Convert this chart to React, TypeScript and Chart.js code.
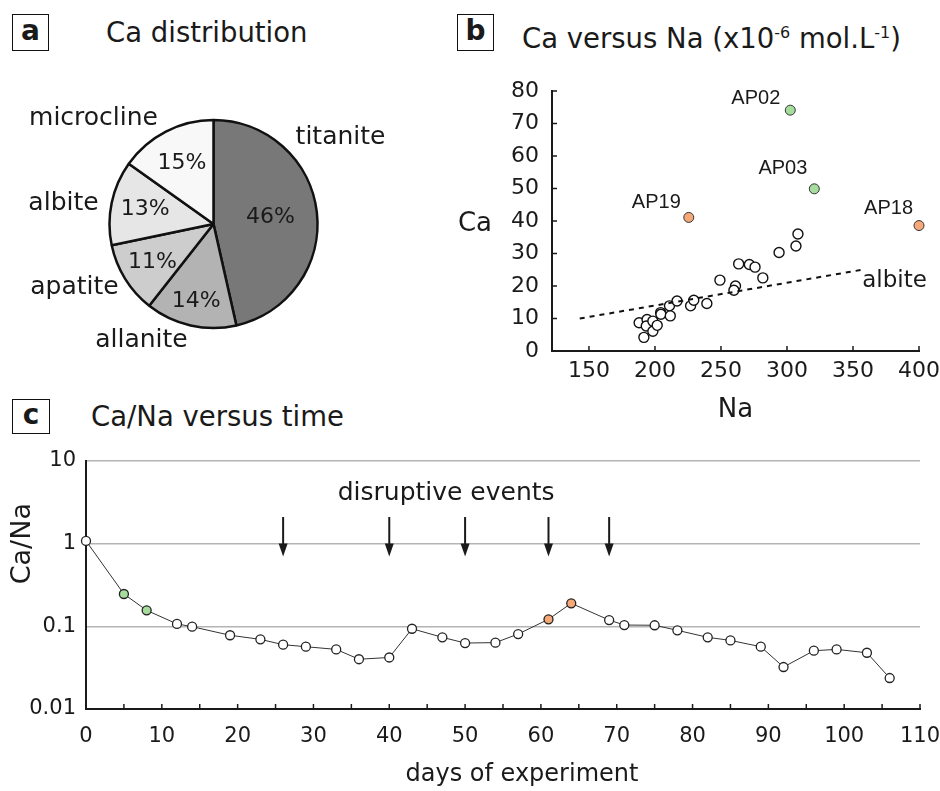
import React, { useEffect, useRef } from "react";
import { Chart, registerables } from "chart.js";

Chart.register(...registerables);

const FONT = "'DejaVu Sans', sans-serif";
const ARIAL = "'Liberation Sans', Arial, sans-serif";
const INK = "#1a1a1a";

// ---------- Panel a: Ca distribution ----------
const mineralNames = ["titanite", "allanite", "apatite", "albite", "microcline"];
const mineralShares = [46, 14, 11, 13, 15];

// ---------- Panel b: Ca versus Na ----------
const sampleNa = [188, 194, 193.4, 191.6, 198.4, 198.4, 201.7, 204.3, 204.5, 211, 211.6, 216.7, 227, 229.4, 239.3, 249.2, 261, 259.8, 263.4, 271.5, 275.8, 281.7, 294, 306.8, 308.3];
const sampleCa = [8.7, 9.7, 7.7, 4.2, 9.2, 6.1, 7.9, 11.8, 11.3, 13.9, 10.8, 15.4, 13.9, 15.6, 14.6, 21.8, 20, 18.7, 26.8, 26.6, 25.8, 22.5, 30.3, 32.3, 36];
const highlightNames = ["AP02", "AP03", "AP19", "AP18"];
const highlightNa = [302.5, 320.7, 225.6, 400];
const highlightCa = [74.1, 49.9, 41.1, 38.6];
const highlightGroup = ["early", "early", "peak", "peak"];
const albiteNa = [143, 357];
const albiteCa = [10, 25];
const naTicks = [150, 200, 250, 300, 350, 400];
const caTicks = [0, 10, 20, 30, 40, 50, 60, 70, 80];

// ---------- Panel c: Ca/Na versus time ----------
const days = [0, 5, 8, 12, 14, 19, 23, 26, 29, 33, 36, 40, 43, 47, 50, 54, 57, 61, 64, 69, 71, 75, 78, 82, 85, 89, 92, 96, 99, 103, 106];
const caNaRatio = [1.08, 0.246, 0.156, 0.107, 0.099, 0.078, 0.0696, 0.06, 0.0567, 0.0526, 0.04, 0.042, 0.0935, 0.0736, 0.0628, 0.0635, 0.0807, 0.1216, 0.19, 0.119, 0.1037, 0.103, 0.0895, 0.0736, 0.0676, 0.0567, 0.0322, 0.0507, 0.0526, 0.0479, 0.0237];
const earlyDays = [5, 8];
const peakDays = [61, 64];
const eventDays = [26, 40, 50, 61, 69];
const dayTicks = [0, 10, 20, 30, 40, 50, 60, 70, 80, 90, 100, 110];
const ratioTicks = [0.01, 0.1, 1, 10];

// ---------- styles ----------
const GREYS = ["#787878", "#b3b3b3", "#cdcdcd", "#e6e6e6", "#f8f8f8"];
const GREEN = "#a6dc9c";
const ORANGE = "#f6a878";
const groupColor = (g: string) => (g === "early" ? GREEN : g === "peak" ? ORANGE : "#ffffff");

const zeroPad = (s: any) => {
  s.paddingLeft = 0;
  s.paddingRight = 0;
  s.paddingTop = 0;
  s.paddingBottom = 0;
};

const pieLabelsPlugin = {
  id: "pieLabels",
  afterDraw(chart: any) {
    const ctx = chart.ctx;
    const meta = chart.getDatasetMeta(0);
    const radial = [0.55, 0.76, 0.69, 0.67, 0.66];
    const nameOffsets = [
      [127, -87],
      [-72, 116],
      [-139, 63],
      [-150, -21],
      [-120, -106],
    ];
    ctx.save();
    ctx.fillStyle = INK;
    ctx.textAlign = "center";
    ctx.textBaseline = "middle";
    meta.data.forEach((arc: any, i: number) => {
      const p = arc.getProps(["startAngle", "endAngle", "outerRadius", "x", "y"], true);
      const mid = (p.startAngle + p.endAngle) / 2;
      const r = p.outerRadius * radial[i];
      ctx.font = `22px ${FONT}`;
      ctx.fillText(`${mineralShares[i]}%`, p.x + Math.cos(mid) * r, p.y + Math.sin(mid) * r);
      ctx.font = `25px ${FONT}`;
      ctx.fillText(mineralNames[i], p.x + nameOffsets[i][0], p.y + nameOffsets[i][1]);
    });
    ctx.restore();
  },
};

const scatterPlugin = {
  id: "scatterExtras",
  afterDraw(chart: any) {
    const ctx = chart.ctx;
    const xs = chart.scales.x;
    const ys = chart.scales.y;
    const area = chart.chartArea;
    ctx.save();
    ctx.strokeStyle = INK;
    ctx.lineWidth = 1.5;
    naTicks.forEach((v) => {
      const px = xs.getPixelForValue(v);
      ctx.beginPath();
      ctx.moveTo(px, area.bottom);
      ctx.lineTo(px, area.bottom - 5);
      ctx.stroke();
    });
    caTicks.forEach((v) => {
      const py = ys.getPixelForValue(v);
      ctx.beginPath();
      ctx.moveTo(area.left, py);
      ctx.lineTo(area.left + 5, py);
      ctx.stroke();
    });
    // sample labels
    const dx = [-10, -7, -8, -6];
    const dy = [-6, -15, -9, -12];
    ctx.fillStyle = INK;
    ctx.font = `20px ${ARIAL}`;
    ctx.textAlign = "right";
    ctx.textBaseline = "alphabetic";
    highlightNames.forEach((n, i) => {
      const px = xs.getPixelForValue(highlightNa[i]);
      const py = ys.getPixelForValue(highlightCa[i]);
      ctx.fillText(n, px + dx[i], py + dy[i]);
    });
    // albite label
    ctx.font = `23px ${FONT}`;
    ctx.textAlign = "left";
    ctx.fillText("albite", xs.getPixelForValue(albiteNa[1]), ys.getPixelForValue(albiteCa[1]) + 17);
    // axis titles
    ctx.font = `26px ${FONT}`;
    ctx.textAlign = "center";
    ctx.textBaseline = "middle";
    ctx.fillText("Ca", area.left - 77, ys.getPixelForValue(40) + 3);
    ctx.fillText("Na", (area.left + area.right) / 2, area.bottom + 59);
    ctx.restore();
  },
};

const timePlugin = {
  id: "timeExtras",
  afterDraw(chart: any) {
    const ctx = chart.ctx;
    const xs = chart.scales.x;
    const ys = chart.scales.y;
    const area = chart.chartArea;
    ctx.save();
    ctx.strokeStyle = INK;
    ctx.fillStyle = INK;
    ctx.lineWidth = 1.5;
    for (let d = 5; d <= 110; d += 5) {
      const px = xs.getPixelForValue(d);
      ctx.beginPath();
      ctx.moveTo(px, area.bottom);
      ctx.lineTo(px, area.bottom - 5);
      ctx.stroke();
    }
    // arrows
    const top = ys.getPixelForValue(2.1);
    const tip = ys.getPixelForValue(0.7);
    ctx.lineWidth = 2;
    eventDays.forEach((d) => {
      const px = xs.getPixelForValue(d);
      ctx.beginPath();
      ctx.moveTo(px, top);
      ctx.lineTo(px, tip - 8);
      ctx.stroke();
      ctx.beginPath();
      ctx.moveTo(px - 4.5, tip - 13);
      ctx.lineTo(px + 4.5, tip - 13);
      ctx.lineTo(px, tip);
      ctx.closePath();
      ctx.fill();
    });
    ctx.textAlign = "center";
    ctx.textBaseline = "middle";
    ctx.font = `25px ${FONT}`;
    ctx.fillText("disruptive events", xs.getPixelForValue(47.5), ys.getPixelForValue(4.1));
    // axis titles
    ctx.font = `24px ${FONT}`;
    ctx.fillText("days of experiment", xs.getPixelForValue(57.5), area.bottom + 66);
    ctx.save();
    ctx.translate(23, ys.getPixelForValue(1));
    ctx.rotate(-Math.PI / 2);
    ctx.font = `27px ${FONT}`;
    ctx.fillText("Ca/Na", 0, 0);
    ctx.restore();
    ctx.restore();
  },
};

function PanelTag({ letter, left, top, w, h }: { letter: string; left: number; top: number; w: number; h: number }) {
  return (
    <div
      style={{
        position: "absolute",
        left,
        top,
        width: w,
        height: h,
        border: "1.5px solid #111",
        boxSizing: "border-box",
        font: `bold 28px ${FONT}`,
        lineHeight: `${h - 6}px`,
        textAlign: "center",
        color: INK,
      }}
    >
      {letter}
    </div>
  );
}

const titleStyle = (left: number, top: number): React.CSSProperties => ({
  position: "absolute",
  left,
  top,
  font: `27.5px ${FONT}`,
  lineHeight: "37px",
  color: INK,
  whiteSpace: "nowrap",
});

export default function App() {
  const pieRef = useRef<HTMLCanvasElement>(null);
  const scatterRef = useRef<HTMLCanvasElement>(null);
  const timeRef = useRef<HTMLCanvasElement>(null);

  useEffect(() => {
    const charts: Chart[] = [];
    const baseOpts = {
      animation: false as const,
      responsive: false,
      devicePixelRatio: 1,
      events: [] as any[],
    };

    charts.push(
      new Chart(pieRef.current!, {
        type: "pie",
        data: {
          labels: mineralNames,
          datasets: [
            {
              data: mineralShares,
              backgroundColor: GREYS,
              borderColor: "#111",
              borderWidth: 2.5,
              radius: 104,
            } as any,
          ],
        },
        options: {
          ...baseOpts,
          layout: { padding: 0 },
          plugins: { legend: { display: false }, tooltip: { enabled: false } },
        },
        plugins: [pieLabelsPlugin],
      })
    );

    const tickFont = { family: FONT, size: 22 };
    charts.push(
      new Chart(scatterRef.current!, {
        type: "scatter",
        data: {
          datasets: [
            {
              data: albiteNa.map((x, i) => ({ x, y: albiteCa[i] })),
              showLine: true,
              borderColor: "#111",
              borderWidth: 2,
              borderDash: [5, 5],
              pointRadius: 0,
              clip: false,
            } as any,
            {
              data: sampleNa.map((x, i) => ({ x, y: sampleCa[i] })),
              backgroundColor: "#ffffff",
              borderColor: "#111",
              borderWidth: 1.4,
              pointRadius: 5,
              clip: false,
            },
            {
              data: highlightNa.map((x, i) => ({ x, y: highlightCa[i] })),
              backgroundColor: highlightGroup.map(groupColor),
              borderColor: "#333",
              borderWidth: 1,
              pointRadius: 5,
              clip: false,
            },
          ],
        },
        options: {
          ...baseOpts,
          layout: { padding: { top: 31, right: 21, left: 0, bottom: 0 } },
          plugins: { legend: { display: false }, tooltip: { enabled: false } },
          scales: {
            x: {
              type: "linear",
              min: 122,
              max: 400,
              afterBuildTicks: (s: any) => {
                s.ticks = naTicks.map((value) => ({ value }));
              },
              afterFit: (s: any) => {
                s.height = 79;
                zeroPad(s);
              },
              grid: { display: false, drawTicks: false },
              border: { color: INK, width: 2 },
              ticks: { color: INK, font: tickFont, padding: 7, maxRotation: 0, autoSkip: false },
            },
            y: {
              type: "linear",
              min: 0,
              max: 80,
              afterBuildTicks: (s: any) => {
                s.ticks = caTicks.map((value) => ({ value }));
              },
              afterFit: (s: any) => {
                s.width = 112;
                zeroPad(s);
              },
              grid: { display: false, drawTicks: false },
              border: { color: INK, width: 2 },
              ticks: { color: INK, font: tickFont, padding: 13, autoSkip: false },
            },
          },
        },
        plugins: [scatterPlugin],
      })
    );

    const pointFill = days.map((d) =>
      groupColor(earlyDays.includes(d) ? "early" : peakDays.includes(d) ? "peak" : "std")
    );
    const tickFontC = { family: FONT, size: 21 };
    charts.push(
      new Chart(timeRef.current!, {
        type: "line",
        data: {
          datasets: [
            {
              data: days.map((x, i) => ({ x, y: caNaRatio[i] })),
              borderColor: "#333",
              borderWidth: 1,
              tension: 0,
              pointRadius: 4.5,
              pointBackgroundColor: pointFill,
              pointBorderColor: "#222",
              pointBorderWidth: 1.3,
              clip: false,
            } as any,
          ],
        },
        options: {
          ...baseOpts,
          layout: { padding: { top: 21, right: 20, left: 0, bottom: 0 } },
          plugins: { legend: { display: false }, tooltip: { enabled: false } },
          scales: {
            x: {
              type: "linear",
              min: 0,
              max: 110,
              afterBuildTicks: (s: any) => {
                s.ticks = dayTicks.map((value) => ({ value }));
              },
              afterFit: (s: any) => {
                s.height = 82;
                zeroPad(s);
              },
              grid: { display: false, drawTicks: false },
              border: { color: INK, width: 2 },
              ticks: { color: INK, font: tickFontC, padding: 15, maxRotation: 0, autoSkip: false },
            },
            y: {
              type: "logarithmic",
              min: 0.01,
              max: 10,
              afterBuildTicks: (s: any) => {
                s.ticks = ratioTicks.map((value) => ({ value }));
              },
              afterFit: (s: any) => {
                s.width = 86;
                zeroPad(s);
              },
              grid: {
                drawTicks: false,
                lineWidth: 1.5,
                color: (c: any) => (c.tick && c.tick.value === 0.01 ? "rgba(0,0,0,0)" : "#b4b4b4"),
              },
              border: { color: INK, width: 2 },
              ticks: {
                color: INK,
                font: tickFontC,
                padding: 10,
                autoSkip: false,
                callback: (v: any) => String(v),
              },
            },
          },
        },
        plugins: [timePlugin],
      })
    );

    return () => charts.forEach((c) => c.destroy());
  }, []);

  return (
    <div
      style={{
        position: "fixed",
        left: 0,
        top: 0,
        width: 940,
        height: 791,
        background: "#ffffff",
        overflow: "hidden",
      }}
    >
      <PanelTag letter="a" left={12} top={14} w={37} h={37} />
      <div style={titleStyle(106, 14)}>Ca distribution</div>
      <PanelTag letter="b" left={457} top={14} w={37} h={37} />
      <div style={titleStyle(522, 14)}>
        Ca versus Na (x10<sup style={{ fontSize: "16px" }}>-6</sup> mol.L<sup style={{ fontSize: "16px" }}>-1</sup>)
      </div>
      <PanelTag letter="c" left={12} top={399} w={38} h={35} />
      <div style={titleStyle(91, 398)}>Ca/Na versus time</div>

      <canvas ref={pieRef} width={427} height={338} style={{ position: "absolute", left: 0, top: 55 }} />
      <canvas ref={scatterRef} width={500} height={370} style={{ position: "absolute", left: 440, top: 60 }} />
      <canvas ref={timeRef} width={940} height={351} style={{ position: "absolute", left: 0, top: 440 }} />
    </div>
  );
}
